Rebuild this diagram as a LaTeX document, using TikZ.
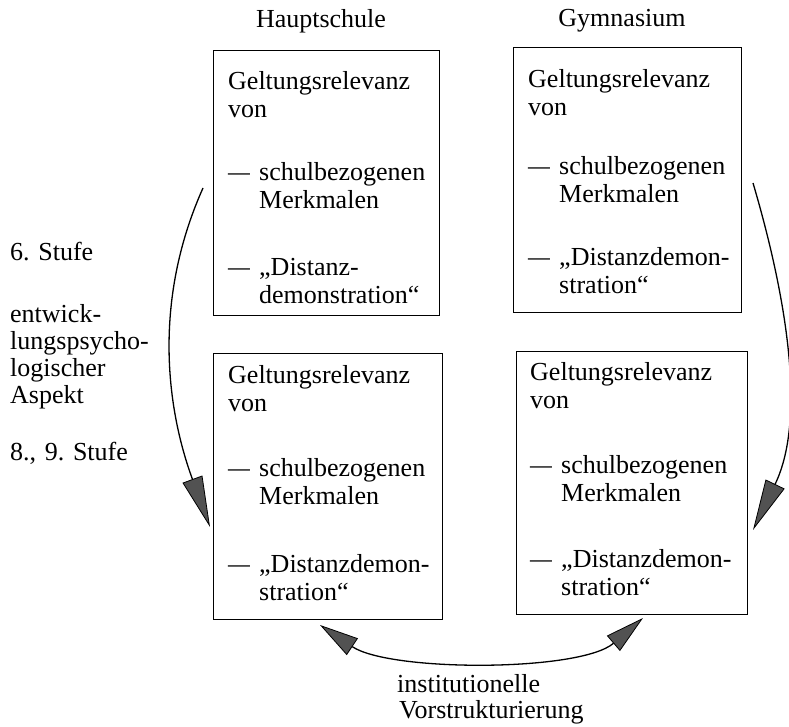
\documentclass[tikz,border=0pt]{standalone}
\usepackage{fontspec}
\usepackage{graphicx}
\setmainfont{Liberation Serif}
\usetikzlibrary{arrows.meta}
\frenchspacing
\newcommand\dashhang{\makebox[31pt][l]{\raisebox{0pt}{\scalebox{0.84}[1]{—}}}}
\newcommand\hangind{\hspace*{31pt}}
\begin{document}
\begin{tikzpicture}[x=1pt,y=-1pt,
  every node/.style={font=\fontsize{26}{28}\selectfont, inner sep=0pt},
  frame/.style={draw, line width=1.4pt, anchor=north west},
  txt/.style={anchor=base west, text width=215pt, align=left},
  head/.style={anchor=base},
  longtip/.tip={Triangle[length=51pt,width=21pt,fill=black!68,line width=0.8pt]},
  shorttip/.tip={Triangle[length=39pt,width=20pt,fill=black!68,line width=0.8pt]},
  conn/.style={draw, line width=1.3pt}
]
\useasboundingbox (0,0) rectangle (789,727);

% headers
\node[head] (hs) at (321,28) {Hauptschule};
\node[head] (gy) at (622,27) {Gymnasium};

% boxes
\node[frame, minimum width=226pt, minimum height=265pt] (tl) at (213,50) {};
\node[frame, minimum width=228pt, minimum height=265pt] (tr) at (513,47) {};
\node[frame, minimum width=229pt, minimum height=266pt] (bl) at (213,353) {};
\node[frame, minimum width=231pt, minimum height=263pt] (br) at (516,351) {};

% box texts
\node[txt] (tlt) at (228,90) {Geltungsrelevanz\\ von\\[35pt]
  \dashhang schulbezogenen\\ \hangind Merkmalen\\[39pt]
  \dashhang „Distanz-\\ \hangind demonstration“};
\node[txt] (trt) at (528,88) {Geltungsrelevanz\\ von\\[31pt]
  \dashhang schulbezogenen\\ \hangind Merkmalen\\[35pt]
  \dashhang „Distanzdemon-\\ \hangind stration“};
\node[txt] (blt) at (228,383) {Geltungsrelevanz\\ von\\[37pt]
  \dashhang schulbezogenen\\ \hangind Merkmalen\\[40pt]
  \dashhang „Distanzdemon-\\ \hangind stration“};
\node[txt] (brt) at (530,380) {Geltungsrelevanz\\ von\\[37pt]
  \dashhang schulbezogenen\\ \hangind Merkmalen\\[38pt]
  \dashhang „Distanzdemon-\\ \hangind stration“};

% side labels
\node[txt] (s6) at (10,260) {6. Stufe};
\node[txt] (asp) at (10,322) {entwick-\\[-1pt] lungspsycho-\\[-1pt] logischer\\[-1pt] Aspekt};
\node[txt] (s89) at (10,460) {8., 9. Stufe};
\node[txt] (inst) at (397,692) {institutionelle\\[-2pt] \hspace*{2pt}Vorstrukturierung};

% connector ends
\coordinate (ls) at (203,188);
\coordinate (le) at (210,527);
\coordinate (rs) at (753,183);
\coordinate (re) at (753,530);
\coordinate (bs) at (320,625);
\coordinate (be) at (643,618);

% connectors
\draw[conn, -longtip] (ls) .. controls (152,302) and (167,410) .. (le);
\draw[conn, -longtip] (rs) .. controls (784,288) and (808,416) .. (re);
\draw[conn, shorttip-shorttip] (bs) .. controls (390,672) and (580,672) .. (be);
\end{tikzpicture}
\end{document}
